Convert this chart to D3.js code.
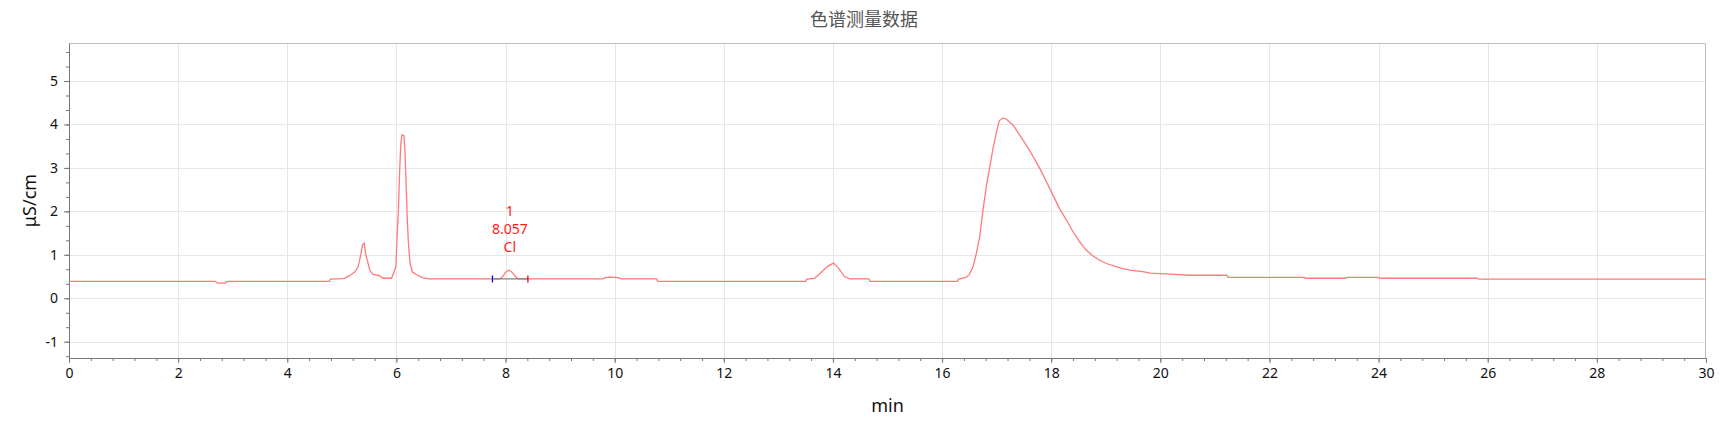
<!DOCTYPE html>
<html>
<head>
<meta charset="utf-8">
<script src="https://cdn.jsdelivr.net/npm/d3@7"></script>
<style>
  body { margin: 0; background: #fff; }
  .tick text { font-family: "Noto Sans", sans-serif; font-size: 14px; fill: #111; }
</style>
</head>
<body>
<svg id="chart"></svg>
<script>
const W = 1728, H = 430;
const margin = { top: 43, right: 22, bottom: 72, left: 69 };

// chromatogram trace (min, µS/cm)
const times = [
  0, 2.68, 2.72, 2.86, 2.88, 2.92, 4.77, 4.79, 5.0, 5.05, 5.14, 5.24, 5.30, 5.34, 5.38, 5.41,
  5.44, 5.48, 5.51, 5.57, 5.69, 5.75, 5.91, 5.95, 5.99, 6.01, 6.04, 6.06, 6.08, 6.10, 6.14,
  6.16, 6.18, 6.20, 6.22, 6.25, 6.29, 6.37, 6.49, 6.61, 7.89, 7.95, 8.00, 8.06, 8.12, 8.18,
  8.24, 9.79, 9.81, 9.90, 10.05, 10.12, 10.77, 10.79, 13.50, 13.52, 13.66, 13.74, 13.82,
  13.91, 14.01, 14.09, 14.15, 14.21, 14.31, 14.66, 14.68, 16.28, 16.30, 16.44, 16.50, 16.57,
  16.63, 16.69, 16.75, 16.81, 16.87, 16.93, 17.00, 17.05, 17.12, 17.18, 17.30, 17.42, 17.54,
  17.67, 17.79, 17.91, 18.03, 18.15, 18.28, 18.40, 18.52, 18.64, 18.76, 18.88, 19.01, 19.19,
  19.31, 19.47, 19.65, 19.82, 20.09, 20.52, 21.22, 21.24, 22.64, 22.66, 23.40, 23.42, 24.00,
  24.02, 25.81, 25.83, 30
];
const signal = [
  0.39, 0.39, 0.35, 0.35, 0.37, 0.39, 0.39, 0.44, 0.45, 0.46, 0.52, 0.61, 0.73, 0.96, 1.23, 1.27,
  1.00, 0.81, 0.65, 0.55, 0.52, 0.46, 0.46, 0.58, 0.73, 1.34, 2.15, 2.96, 3.53, 3.76, 3.74,
  3.30, 2.57, 1.80, 1.27, 0.81, 0.61, 0.54, 0.47, 0.445, 0.445, 0.50, 0.60, 0.645, 0.60, 0.50,
  0.445, 0.445, 0.47, 0.485, 0.48, 0.445, 0.445, 0.39, 0.39, 0.44, 0.46, 0.54, 0.64,
  0.74, 0.81, 0.71, 0.61, 0.50, 0.445, 0.445, 0.39, 0.39, 0.44, 0.48, 0.55, 0.73,
  1.04, 1.42, 2.03, 2.57, 2.99, 3.42, 3.84, 4.09, 4.15, 4.12, 3.99, 3.76, 3.53,
  3.26, 2.99, 2.69, 2.38, 2.07, 1.80, 1.53, 1.30, 1.11, 0.98, 0.88, 0.80, 0.73,
  0.68, 0.64, 0.62, 0.58, 0.56, 0.53, 0.53, 0.48, 0.48, 0.46, 0.46, 0.48, 0.48,
  0.46, 0.46, 0.44, 0.44
];

// integrated peak
const peakLabels = ["1", "8.057", "Cl"];
const peakTime = 8.06;
const peakTop = 0.645;
const peakStart = 7.76, peakEnd = 8.41, peakBase = 0.445;

// axes
const xDomain = [0, 30];
const yDomain = [-1.375, 5.875];
const xTicks = d3.range(0, 31, 2);
const xMinorTicks = d3.range(0, 30.01, 0.4);
const yTicks = [-1, 0, 1, 2, 3, 4, 5];
const yMinorTicks = d3.range(-4, 18).map(i => i / 3);

const SVG = d3.select("#chart").attr("width", W).attr("height", H);

const x = d3.scaleLinear().domain(xDomain).range([margin.left, W - margin.right]);
const y = d3.scaleLinear().domain(yDomain).range([H - margin.bottom, margin.top]);

// gridlines
const grid = SVG.append("g").attr("stroke", "#e6e6e6").attr("stroke-width", 1);
grid.selectAll(".vline").data(xTicks.slice(1, -1)).enter().append("line")
  .attr("x1", d => Math.round(x(d)) + 0.5).attr("x2", d => Math.round(x(d)) + 0.5)
  .attr("y1", margin.top).attr("y2", H - margin.bottom);
grid.selectAll(".hline").data(yTicks).enter().append("line")
  .attr("x1", margin.left).attr("x2", W - margin.right)
  .attr("y1", d => Math.round(y(d)) + 0.5).attr("y2", d => Math.round(y(d)) + 0.5);

// top and right frame
SVG.append("path")
  .attr("d", `M${margin.left},${margin.top + 0.5}H${W - margin.right - 0.5}V${H - margin.bottom}`)
  .attr("fill", "none").attr("stroke", "#bdbdbd");

// minor ticks
SVG.append("g")
  .attr("transform", `translate(0,${H - margin.bottom})`)
  .call(d3.axisBottom(x).tickValues(xMinorTicks).tickSize(3).tickFormat(""))
  .call(g => g.select(".domain").remove())
  .call(g => g.selectAll("line").attr("stroke", "#777"));
SVG.append("g")
  .attr("transform", `translate(${margin.left},0)`)
  .call(d3.axisLeft(y).tickValues(yMinorTicks).tickSize(3).tickFormat(""))
  .call(g => g.select(".domain").remove())
  .call(g => g.selectAll("line").attr("stroke", "#777"));

// major axes (plain hyphen for negatives, like the original)
SVG.append("g")
  .attr("transform", `translate(0,${H - margin.bottom})`)
  .call(d3.axisBottom(x).tickValues(xTicks).tickSize(5).tickSizeOuter(0).tickPadding(5).tickFormat(d => String(d)))
  .call(g => g.selectAll("line, .domain").attr("stroke", "#777"));
SVG.append("g")
  .attr("transform", `translate(${margin.left},0)`)
  .call(d3.axisLeft(y).tickValues(yTicks).tickSize(5).tickSizeOuter(0).tickPadding(6).tickFormat(d => String(d)))
  .call(g => g.selectAll("line, .domain").attr("stroke", "#777"));

// trace
const points = times.map((t, i) => [t, signal[i]]);
const line = d3.line().x(d => x(d[0])).y(d => y(d[1]));
SVG.append("path")
  .datum(points)
  .attr("d", line)
  .attr("fill", "none")
  .attr("stroke", "#ff7b7b")
  .attr("stroke-width", 1.3);

// peak baseline and markers
SVG.append("line")
  .attr("x1", x(peakStart)).attr("x2", x(peakEnd))
  .attr("y1", y(peakBase)).attr("y2", y(peakBase))
  .attr("stroke", "#808080").attr("stroke-width", 1.2);
[[peakStart, "#0000ff"], [peakEnd, "#ff0000"]].forEach(([t, c]) => {
  SVG.append("line")
    .attr("x1", x(t)).attr("x2", x(t))
    .attr("y1", y(peakBase) - 3.5).attr("y2", y(peakBase) + 3.5)
    .attr("stroke", c).attr("stroke-width", 1.3);
});

// peak annotation
const lab = SVG.append("text")
  .attr("x", x(peakTime) + 1)
  .attr("font-family", "Noto Sans, sans-serif")
  .attr("font-size", 14)
  .attr("fill", "#ff1a1a")
  .attr("text-anchor", "middle");
peakLabels.forEach((t, i) => {
  lab.append("tspan")
    .attr("x", x(peakTime) + 1)
    .attr("y", y(peakTop) - 54 + i * 18)
    .text(t);
});

// titles
SVG.append("text")
  .attr("x", W / 2).attr("y", 26)
  .attr("text-anchor", "middle")
  .attr("font-family", "Noto Sans CJK SC, sans-serif")
  .attr("font-size", 18)
  .attr("fill", "#555")
  .text("色谱测量数据");

SVG.append("text")
  .attr("x", (margin.left + W - margin.right) / 2).attr("y", 412)
  .attr("text-anchor", "middle")
  .attr("font-family", "Noto Sans, sans-serif")
  .attr("font-size", 18)
  .attr("fill", "#111")
  .text("min");

SVG.append("text")
  .attr("transform", `translate(36,${(margin.top + H - margin.bottom) / 2}) rotate(-90)`)
  .attr("text-anchor", "middle")
  .attr("font-family", "Noto Sans, sans-serif")
  .attr("font-size", 18)
  .attr("fill", "#111")
  .text("μS/cm");
</script>
</body>
</html>
